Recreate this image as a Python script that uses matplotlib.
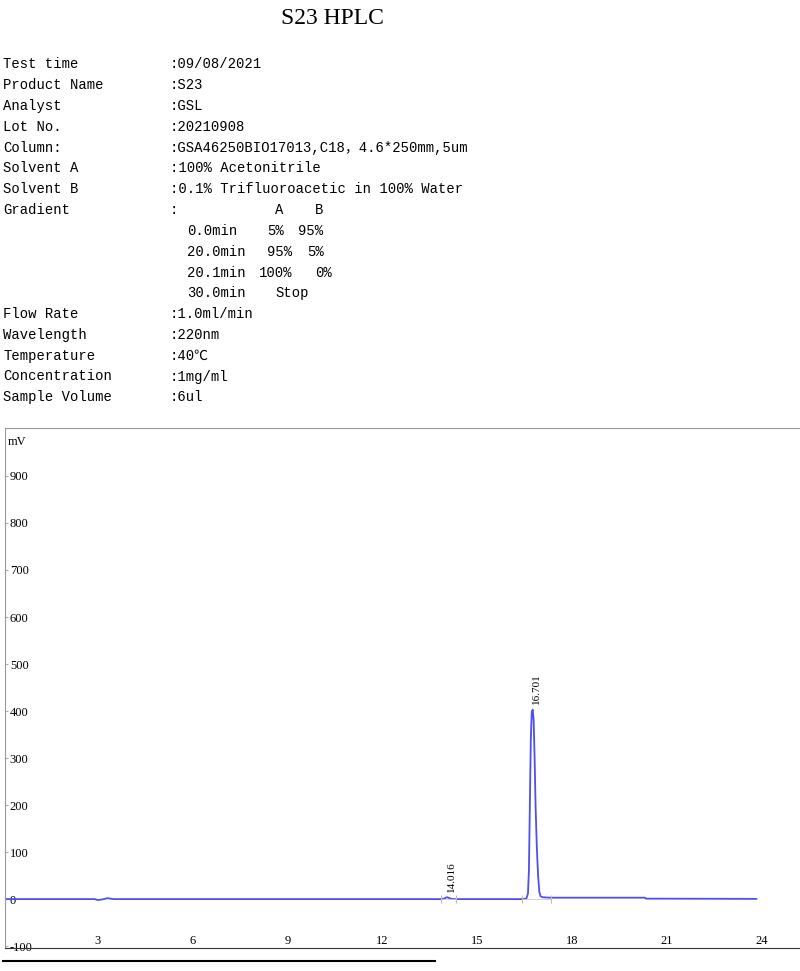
import matplotlib
matplotlib.use("Agg")
import matplotlib.pyplot as plt
from matplotlib.lines import Line2D

plt.rcParams["axes.unicode_minus"] = False

# header info
title = "S23 HPLC"
info_labels = ["Test time", "Product Name", "Analyst", "Lot No.", "Column:",
               "Solvent A", "Solvent B", "Gradient"]
info_values = [":09/08/2021", ":S23", ":GSL", ":20210908",
               ":GSA46250BIO17013,C18，4.6*250mm,5um", ":100% Acetonitrile",
               ":0.1% Trifluoroacetic in 100% Water", ":"]
grad_head = ["A", "B"]
grad_time = ["0.0min", "20.0min", "20.1min", "30.0min"]
grad_a = ["5%", "95%", "100%", "Stop"]
grad_b = ["95%", "5%", "0%", ""]
info2_labels = ["Flow Rate", "Wavelength", "Temperature", "Concentration", "Sample Volume"]
info2_values = [":1.0ml/min", ":220nm", ":40℃", ":1mg/ml", ":6ul"]

# chromatogram
time_min = [0.07, 2.9, 3.0, 3.1, 3.2, 3.3, 3.4, 3.5, 13.85, 13.95, 14.0, 14.05,
            14.12, 14.2, 14.32, 16.4, 16.55, 16.6, 16.63, 16.66, 16.69, 16.72,
            16.75, 16.78, 16.81, 16.84, 16.88, 16.92, 16.96, 17.0, 17.06, 17.3,
            20.3, 20.33, 23.82]
signal_mv = [0, 0, -2, -1, 0, 2, 1, 0, 0, 1, 3, 4, 2, 0, 0, 0, 1, 12, 60, 200,
             340, 398, 403, 380, 300, 200, 110, 50, 15, 6, 4, 3, 3, 1, 0.5]
peak_rt = [14.016, 16.701]
peak_top = [4, 403]
peak_bounds = [13.85, 14.32, 16.4, 17.32]
x_ticks = [3, 6, 9, 12, 15, 18, 21, 24]
y_ticks = [-100, 0, 100, 200, 300, 400, 500, 600, 700, 800, 900]

W, H = 800, 971
fig = plt.figure(figsize=(W / 100, H / 100), dpi=100)

mono = ["Liberation Mono", "Noto Sans CJK SC", "DejaVu Sans"]
serif = ["Liberation Serif", "DejaVu Serif"]


def px(x, y):
    return x / W, 1 - y / H


fig.text(*px(332, 18), title, ha="center", va="center", fontsize=17,
         family=["Liberation Serif"])

row0, pitch, fs = 64.5, 20.8, 10
for i, (lab, val) in enumerate(zip(info_labels, info_values)):
    y = row0 + i * pitch
    fig.text(*px(3, y), lab, ha="left", va="center", fontsize=fs, family=mono)
    fig.text(*px(170, y), val, ha="left", va="center", fontsize=fs, family=mono)
y = row0 + 7 * pitch
fig.text(*px(279, y), grad_head[0], ha="center", va="center", fontsize=fs, family=mono)
fig.text(*px(319, y), grad_head[1], ha="center", va="center", fontsize=fs, family=mono)
a_x = [267, 267, 259, 275]
b_x = [298, 307, 315, 0]
for i in range(4):
    y = row0 + (8 + i) * pitch
    fig.text(*px(187, y), grad_time[i], ha="left", va="center", fontsize=fs, family=mono)
    fig.text(*px(a_x[i], y), grad_a[i], ha="left", va="center", fontsize=fs, family=mono)
    if grad_b[i]:
        fig.text(*px(b_x[i], y), grad_b[i], ha="left", va="center", fontsize=fs, family=mono)
for i, (lab, val) in enumerate(zip(info2_labels, info2_values)):
    y = row0 + (12 + i) * pitch
    fig.text(*px(3, y), lab, ha="left", va="center", fontsize=fs, family=mono)
    fig.text(*px(170, y), val, ha="left", va="center", fontsize=fs, family=mono)

# chart
ax = fig.add_axes([5 / W, 1 - 948 / H, 1 - 5 / W, (948 - 428) / H])
ax.plot(time_min, signal_mv, color="#4f4ff0", lw=1.3)
ax.vlines(peak_bounds, -9, 9, color="#bbbbbb", lw=0.8)
ax.plot(peak_bounds[0:2], [0, 0], color="#cccccc", lw=0.6)
ax.plot(peak_bounds[2:4], [0, 0], color="#cccccc", lw=0.6)
for rt, top in zip(peak_rt, peak_top):
    ax.annotate(f"{rt:.3f}", xy=(rt, top), xytext=(4, 4), textcoords="offset points",
                rotation=90, ha="center", va="bottom", fontsize=8, family=serif)

ax.set_xlim(0.067, 25.2)
ax.set_ylim(-104, 1002)
ax.set_xticks(x_ticks)
ax.set_yticks(y_ticks)
ax.tick_params(axis="x", length=0, pad=-0.5, labelsize=9)
ax.tick_params(axis="y", direction="in", length=2, color="#aaaaaa", pad=-3.5, labelsize=9)
for lbl in ax.get_xticklabels():
    lbl.set_va("bottom")
    lbl.set_family(serif)
for lbl in ax.get_yticklabels():
    lbl.set_ha("left")
    lbl.set_family(serif)
ax.text(0.004, 0.985, "mV", transform=ax.transAxes, ha="left", va="top",
        fontsize=9, family=serif)
ax.spines["right"].set_visible(False)
ax.spines["top"].set_color("#999999")
ax.spines["left"].set_color("#999999")
ax.spines["bottom"].set_color("#333333")
for s in ax.spines.values():
    s.set_linewidth(0.8)

fig.add_artist(Line2D([3 / W, 435 / W], [1 - 961 / H, 1 - 961 / H],
                      color="black", lw=1.5))

fig.savefig("out.png", dpi=100)
